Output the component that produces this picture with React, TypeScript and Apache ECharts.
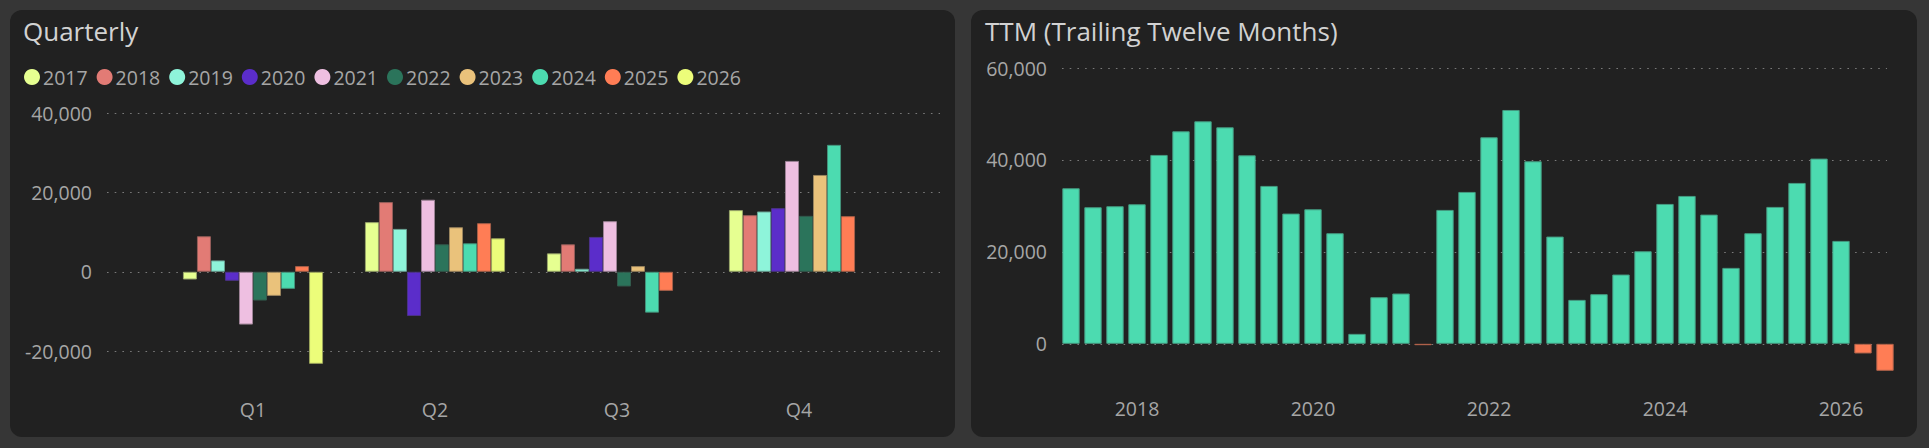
import React, { useEffect, useRef } from "react";
import * as echarts from "echarts";

const quarters = ["Q1", "Q2", "Q3", "Q4"];
const years = ["2017", "2018", "2019", "2020", "2021", "2022", "2023", "2024", "2025", "2026"];
const yearColors = ["#e6ff91", "#e27b75", "#8ef4da", "#5b2dca", "#eebfe1", "#2b745b", "#eac27b", "#4cdbb0", "#ff7d55", "#ecfd7a"];

const q2017 = [-1950, 12500, 4640, 15530];
const q2018 = [8950, 17550, 6920, 14260];
const q2019 = [2870, 10800, 760, 15190];
const q2020 = [-2280, -11140, 8780, 16030];
const q2021 = [-13300, 18150, 12740, 27930];
const q2022 = [-7250, 6920, -3710, 14090];
const q2023 = [-6080, 11220, 1430, 24390];
const q2024 = [-4300, 7170, -10300, 31980];
const q2025 = [1430, 12240, -4810, 14010];
const q2026 = [-23200, 8440, null, null];
const quarterlyValues = [q2017, q2018, q2019, q2020, q2021, q2022, q2023, q2024, q2025, q2026];

const ttmDates = [
  "2017-03-31", "2017-06-30", "2017-09-30", "2017-12-31",
  "2018-03-31", "2018-06-30", "2018-09-30", "2018-12-31",
  "2019-03-31", "2019-06-30", "2019-09-30", "2019-12-31",
  "2020-03-31", "2020-06-30", "2020-09-30", "2020-12-31",
  "2021-03-31", "2021-06-30", "2021-09-30", "2021-12-31",
  "2022-03-31", "2022-06-30", "2022-09-30", "2022-12-31",
  "2023-03-31", "2023-06-30", "2023-09-30", "2023-12-31",
  "2024-03-31", "2024-06-30", "2024-09-30", "2024-12-31",
  "2025-03-31", "2025-06-30", "2025-09-30", "2025-12-31",
  "2026-03-31", "2026-06-30",
];
const ttmValues = [
  33840, 29710, 29930, 30360,
  41090, 46230, 48400, 47100,
  41010, 34350, 28330, 29270,
  24060, 2170, 10140, 10940,
  -300, 29130, 33040, 44930,
  50870, 39710, 23330, 9560,
  10800, 15070, 20140, 30430,
  32170, 28110, 16520, 24060,
  29780, 35000, 40290, 22390,
  -2100, -5870,
];
const ttmTickLabels = ["2018", "2020", "2022", "2024", "2026"];

const POS = "#4cdbb0";
const NEG = "#ff7d55";
const PAGE_BG = "#363636";
const PANEL_BG = "#212121";
const TITLE_COLOR = "#d2d2d2";
const LABEL_COLOR = "#a6a6a6";
const GRID_COLOR = "#7a7a7a";
const FONT = "'Open Sans', 'Noto Sans', sans-serif";

function mix(hex: string, other: string, t: number): string {
  const a = parseInt(hex.slice(1), 16);
  const b = parseInt(other.slice(1), 16);
  const r = Math.round(((a >> 16) & 255) * (1 - t) + ((b >> 16) & 255) * t);
  const g = Math.round(((a >> 8) & 255) * (1 - t) + ((b >> 8) & 255) * t);
  const bl = Math.round((a & 255) * (1 - t) + (b & 255) * t);
  return "#" + ((1 << 24) | (r << 16) | (g << 8) | bl).toString(16).slice(1);
}

const dotted = { color: GRID_COLOR, width: 1, type: [1.6, 6.1] as any };

export default function App() {
  const ref = useRef<HTMLDivElement>(null);
  useEffect(() => {
    document.body.style.margin = "0";
    document.body.style.background = PAGE_BG;
    const chart = echarts.init(ref.current!, undefined, { renderer: "svg" });
    const labelStyle = { color: LABEL_COLOR, fontSize: 19.5, fontFamily: FONT };
    chart.setOption({
      animation: false,
      backgroundColor: PAGE_BG,
      textStyle: { fontFamily: FONT },
      graphic: [
        { type: "rect", z: -10, shape: { x: 10, y: 10, width: 945, height: 427, r: 12 }, style: { fill: PANEL_BG } },
        { type: "rect", z: -10, shape: { x: 971, y: 10, width: 946, height: 427, r: 12 }, style: { fill: PANEL_BG } },
      ],
      title: [
        { text: "Quarterly", left: 23, top: 18, padding: 0, textStyle: { color: TITLE_COLOR, fontSize: 26, fontWeight: "normal", fontFamily: FONT } },
        { text: "TTM (Trailing Twelve Months)", left: 985, top: 18, padding: 0, textStyle: { color: TITLE_COLOR, fontSize: 26, fontWeight: "normal", fontFamily: FONT } },
      ],
      legend: {
        data: years,
        left: 24,
        top: 67,
        padding: 0,
        icon: "circle",
        itemWidth: 16,
        itemHeight: 16,
        itemGap: 9,
        itemStyle: { borderWidth: 0 },
        textStyle: { ...labelStyle, padding: [0, 0, 0, -2] },
      },
      grid: [
        { left: 107, top: 113, width: 833, height: 258 },
        { left: 162, top: 113, width: 728, height: 258 },
        { left: 1062, top: 68, width: 825, height: 308 },
        { left: 1060, top: 68, width: 836, height: 308 },
      ],
      xAxis: [
        { gridIndex: 0, type: "category", data: quarters, show: false },
        {
          gridIndex: 1, type: "category", data: quarters,
          axisLine: { show: false, onZero: false }, axisTick: { show: false },
          axisLabel: { ...labelStyle, margin: 28 },
        },
        { gridIndex: 2, type: "category", data: ttmDates, show: false },
        {
          gridIndex: 3, type: "category", data: ttmDates,
          axisLine: { show: false, onZero: false }, axisTick: { show: false },
          axisLabel: {
            ...labelStyle, margin: 22, interval: 0,
            formatter: (v: string) => {
              const y = parseInt(v.slice(0, 4), 10);
              const next = String(y + 1);
              return v.slice(5) === "12-31" && ttmTickLabels.includes(next) ? next : "";
            },
          },
        },
      ],
      yAxis: [
        {
          gridIndex: 0, type: "value", min: -25000, max: 40000, splitNumber: 3,
          axisLine: { show: false }, axisTick: { show: false },
          axisLabel: { ...labelStyle, margin: 15, showMinLabel: false },
          splitLine: { show: true, showMinLine: false, lineStyle: dotted },
        },
        { gridIndex: 1, type: "value", min: -25000, max: 40000, splitNumber: 3, show: false, splitLine: { show: false } },
        {
          gridIndex: 2, type: "value", min: -7000, max: 60000, splitNumber: 3,
          axisLine: { show: false }, axisTick: { show: false },
          axisLabel: { ...labelStyle, margin: 15, showMinLabel: false },
          splitLine: { show: true, showMinLine: false, lineStyle: dotted },
        },
        { gridIndex: 3, type: "value", min: -7000, max: 60000, splitNumber: 3, show: false, splitLine: { show: false } },
      ],
      series: [
        ...years.map((yr, i) => ({
          name: yr,
          type: "bar",
          xAxisIndex: 1,
          yAxisIndex: 1,
          data: quarterlyValues[i],
          barGap: "0%",
          barCategoryGap: "23%",
          itemStyle: { color: yearColors[i], borderColor: mix(yearColors[i], "#3a3a3a", 0.45), borderWidth: 1 },
        })),
        {
          name: "TTM",
          type: "bar",
          xAxisIndex: 3,
          yAxisIndex: 3,
          barCategoryGap: "21%",
          data: ttmValues.map((v) => {
            const c = v < 0 ? NEG : POS;
            return { value: v, itemStyle: { color: c, borderColor: mix(c, "#3a3a3a", 0.4), borderWidth: 1 } };
          }),
        },
      ],
    });
    return () => chart.dispose();
  }, []);
  return <div ref={ref} style={{ position: "fixed", left: 0, top: 0, width: 1929, height: 448 }} />;
}
